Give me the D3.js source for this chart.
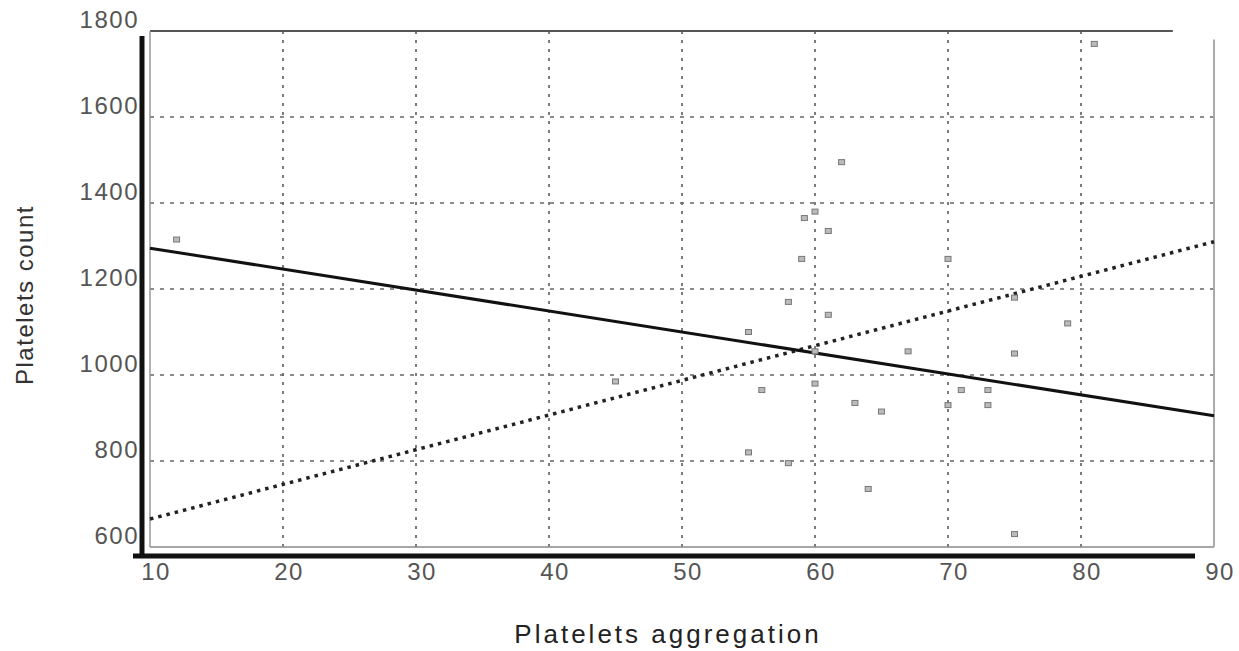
<!DOCTYPE html>
<html>
<head>
<meta charset="utf-8">
<script src="https://cdn.jsdelivr.net/npm/d3@7"></script>
<style>
  body { margin: 0; background: #fff; }
  text { font-family: "Liberation Sans", Arial, sans-serif; }
</style>
</head>
<body>
<div class="chart"></div>
<script>
const WIDTH = 1239;
const HEIGHT = 651;

// scatter values
var aggregation = [12, 81, 62, 59.2, 60, 61, 59, 58, 61, 55, 60, 45, 56, 60, 63, 65, 55, 58, 64, 70, 75, 79, 67, 75, 71, 73, 70, 73, 75];
var count = [1315, 1770, 1495, 1365, 1380, 1335, 1270, 1170, 1140, 1100, 1055, 985, 965, 980, 935, 915, 820, 795, 735, 1270, 1180, 1120, 1055, 1050, 965, 965, 930, 930, 630];

// the two fitted lines, ends at x = 10 and x = 90
var fitX = [10, 90];
var solidFit = [1295, 905];
var dottedFit = [665, 1310];

var xTicks = [10, 20, 30, 40, 50, 60, 70, 80, 90];
var yTicks = [600, 800, 1000, 1200, 1400, 1600, 1800];

var svg = d3.select('.chart').append('svg')
    .attr('width', WIDTH)
    .attr('height', HEIGHT);

var x = d3.scaleLinear().domain([10, 90]).range([150, 1214]);
var y = d3.scaleLinear().domain([600, 1800]).range([547, 31]);

// grid
svg.append('g').selectAll('line')
    .data(xTicks.slice(1, -1))
    .enter().append('line')
    .attr('x1', d => x(d)).attr('x2', d => x(d))
    .attr('y1', y(1800)).attr('y2', y(600))
    .attr('stroke', '#666').attr('stroke-width', 1.7)
    .attr('stroke-dasharray', '3,6');

svg.append('g').selectAll('line')
    .data(yTicks.slice(1, -1))
    .enter().append('line')
    .attr('x1', x(10)).attr('x2', x(90))
    .attr('y1', d => y(d)).attr('y2', d => y(d))
    .attr('stroke', '#666').attr('stroke-width', 1.7)
    .attr('stroke-dasharray', '4,6');

// inner frame
svg.append('line')
    .attr('x1', x(10)).attr('x2', x(86.9))
    .attr('y1', y(1800)).attr('y2', y(1800))
    .attr('stroke', '#555').attr('stroke-width', 2.2);
svg.append('line')
    .attr('x1', x(10)).attr('x2', x(10))
    .attr('y1', y(1800)).attr('y2', y(600))
    .attr('stroke', '#999').attr('stroke-width', 1.5);
svg.append('line')
    .attr('x1', x(10)).attr('x2', x(90))
    .attr('y1', y(600)).attr('y2', y(600))
    .attr('stroke', '#888').attr('stroke-width', 1.5);
svg.append('line')
    .attr('x1', x(90)).attr('x2', x(90))
    .attr('y1', y(1780)).attr('y2', y(600))
    .attr('stroke', '#aaa').attr('stroke-width', 2);

// heavy outer axes
svg.append('line')
    .attr('x1', x(10) - 8).attr('x2', x(10) - 8)
    .attr('y1', 36).attr('y2', y(600) + 11)
    .attr('stroke', '#111').attr('stroke-width', 5);
svg.append('line')
    .attr('x1', x(10) - 17).attr('x2', 1195)
    .attr('y1', y(600) + 9).attr('y2', y(600) + 9)
    .attr('stroke', '#111').attr('stroke-width', 5);

// fitted lines
var line = d3.line()
    .x(function(d) { return x(d[0]); })
    .y(function(d) { return y(d[1]); });

svg.append('path')
    .attr('d', line(d3.zip(fitX, dottedFit)))
    .attr('fill', 'none').attr('stroke', '#222')
    .attr('stroke-width', 3.5).attr('stroke-dasharray', '3.5,5');

svg.append('path')
    .attr('d', line(d3.zip(fitX, solidFit)))
    .attr('fill', 'none').attr('stroke', '#111')
    .attr('stroke-width', 3);

// points
svg.append('g').selectAll('rect')
    .data(d3.zip(aggregation, count))
    .enter().append('rect')
    .attr('x', d => x(d[0]) - 3)
    .attr('y', d => y(d[1]) - 2.5)
    .attr('width', 6).attr('height', 5)
    .attr('fill', '#bbb').attr('stroke', '#777').attr('stroke-width', 1);

// tick labels
svg.append('g').selectAll('text')
    .data(yTicks)
    .enter().append('text')
    .attr('x', 139)
    .attr('y', d => y(d) - 9)
    .attr('dominant-baseline', 'middle')
    .attr('text-anchor', 'end')
    .attr('font-size', 24)
    .attr('letter-spacing', 1.5)
    .attr('fill', '#555')
    .text(d => d);

svg.append('g').selectAll('text')
    .data(xTicks)
    .enter().append('text')
    .attr('x', d => x(d) + 6)
    .attr('y', 574)
    .attr('dominant-baseline', 'middle')
    .attr('text-anchor', 'middle')
    .attr('font-size', 24)
    .attr('letter-spacing', 1.5)
    .attr('fill', '#555')
    .text(d => d);

// axis titles
svg.append('text')
    .attr('transform', 'translate(' + 33 + ',' + 295 + ') rotate(-90)')
    .attr('text-anchor', 'middle')
    .attr('font-size', 24)
    .attr('letter-spacing', 1.5)
    .attr('fill', '#333')
    .text('Platelets  count');

svg.append('text')
    .attr('x', 668)
    .attr('y', 643)
    .attr('text-anchor', 'middle')
    .attr('font-size', 26)
    .attr('letter-spacing', 3)
    .attr('fill', '#222')
    .text('Platelets  aggregation');
</script>
</body>
</html>
